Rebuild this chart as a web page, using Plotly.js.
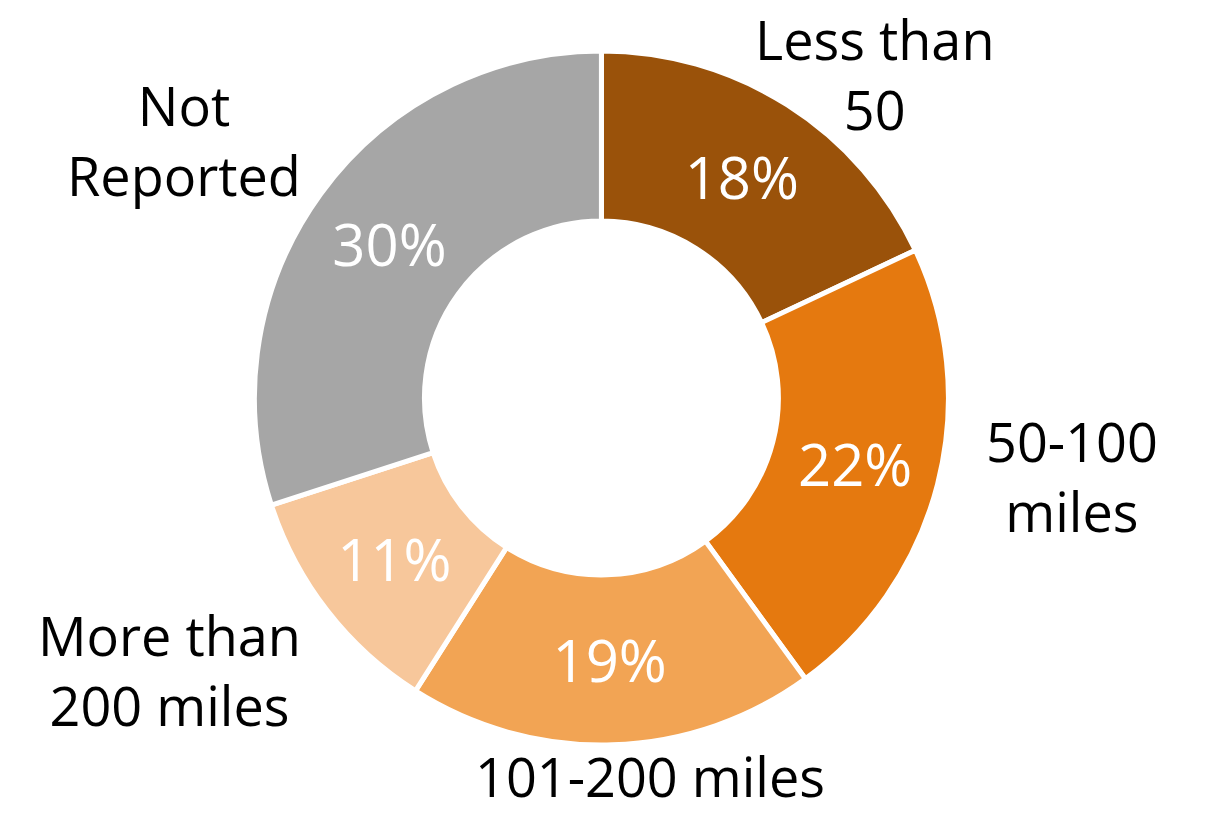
<!DOCTYPE html>
<html>
<head>
<meta charset="utf-8">
<script src="https://cdn.plot.ly/plotly-3.0.1.min.js"></script>
<style>html,body{margin:0;padding:0;background:#fff;}#chart{width:1215px;height:814px;}</style>
</head>
<body>
<div id="chart"></div>
<script>
const categories = ["Less than<br>50", "50-100<br>miles", "101-200 miles", "More than<br>200 miles", "Not<br>Reported"];
const shares = [18, 22, 19, 11, 30];
const sliceColors = ["#9A520A", "#E5790F", "#F2A454", "#F7C79B", "#A6A6A6"];

const FONT = "'Open Sans', 'DejaVu Sans', sans-serif";

// label placement (paper fractions), kept separate from data
const labelPos = [
  {x: 875/1215, y: 1 - 74/814, ya: "middle"},
  {x: 1072/1215, y: 1 - 476/814, ya: "middle"},
  {x: 650/1215, y: 0.0, ya: "bottom"},
  {x: 169/1215, y: 1 - 670/814, ya: "middle"},
  {x: 184/1215, y: 1 - 140/814, ya: "middle"}
];

const trace = {
  type: "pie",
  values: shares,
  labels: categories,
  sort: false,
  direction: "clockwise",
  rotation: 0,
  hole: 0.51,
  marker: {colors: sliceColors, line: {color: "#ffffff", width: 5}},
  texttemplate: "%{value}%",
  textposition: "inside",
  insidetextorientation: "horizontal",
  textfont: {family: FONT, size: 58, color: "#ffffff"},
  domain: {x: [0.2, 0.79], y: [0.0848, 0.9374]},
  showlegend: false,
  hoverinfo: "label+percent"
};

const annotations = categories.map((c, i) => ({
  text: c,
  x: labelPos[i].x, y: labelPos[i].y,
  xref: "paper", yref: "paper",
  xanchor: "center", yanchor: labelPos[i].ya,
  align: "center",
  showarrow: false,
  borderpad: 0,
  font: {family: FONT, size: 54, color: "#000000"}
}));

Plotly.newPlot("chart", [trace], {
  width: 1215, height: 814,
  margin: {l: 0, r: 0, t: 0, b: 0},
  paper_bgcolor: "#ffffff",
  showlegend: false,
  annotations: annotations
}, {displayModeBar: false, staticPlot: true});
</script>
</body>
</html>
